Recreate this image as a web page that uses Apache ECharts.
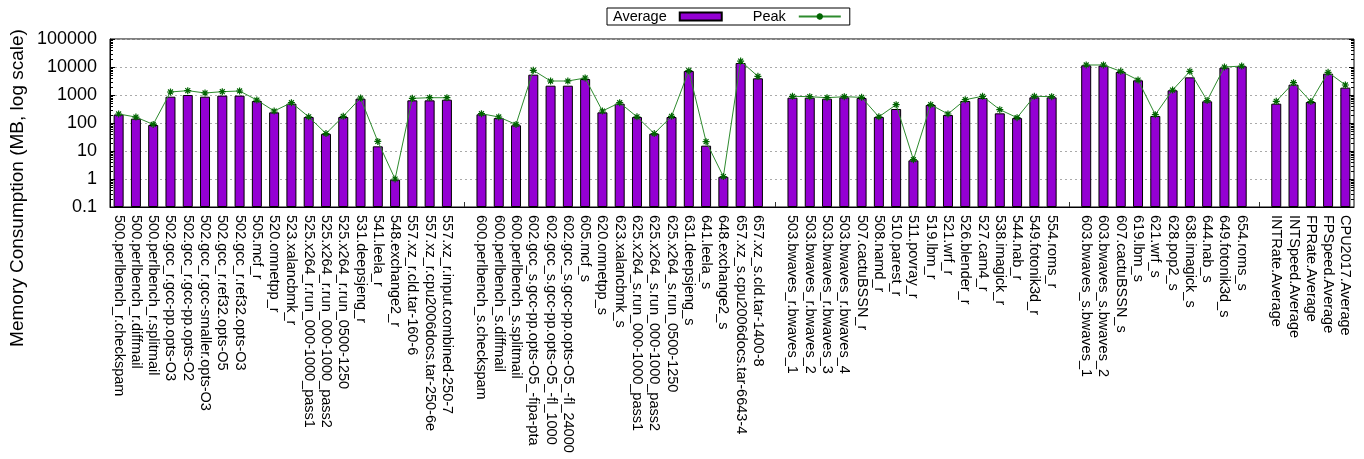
<!DOCTYPE html>
<html>
<head>
<meta charset="utf-8">
<script src="https://cdn.jsdelivr.net/npm/echarts@6/dist/echarts.min.js"></script>
<style>
  html, body { margin: 0; padding: 0; background: #fff; }
  #chart { width: 1364px; height: 459px; }
</style>
</head>
<body>
<div id="chart"></div>
<script>
// SPEC CPU2017 memory consumption per benchmark (MB)
const intRateNames = [
  '500.perlbench_r.checkspam', '500.perlbench_r.diffmail', '500.perlbench_r.splitmail',
  '502.gcc_r.gcc-pp.opts-O3', '502.gcc_r.gcc-pp.opts-O2', '502.gcc_r.gcc-smaller.opts-O3',
  '502.gcc_r.ref32.opts-O5', '502.gcc_r.ref32.opts-O3', '505.mcf_r', '520.omnetpp_r',
  '523.xalancbmk_r', '525.x264_r.run_000-1000_pass1', '525.x264_r.run_000-1000_pass2',
  '525.x264_r.run_0500-1250', '531.deepsjeng_r', '541.leela_r', '548.exchange2_r',
  '557.xz_r.cld.tar-160-6', '557.xz_r.cpu2006docs.tar-250-6e', '557.xz_r.input.combined-250-7'
];
const intRateAvg  = [200, 143, 85, 870, 1000, 870, 950, 950, 610, 240, 490, 164, 41, 164, 740, 14.7, 0.95, 645, 645, 680];
const intRatePeak = [210, 163, 89, 1280, 1430, 1180, 1315, 1390, 660, 268, 532, 166, 42, 173, 780, 22, 1.0, 760, 800, 800];

const intSpeedNames = [
  '600.perlbench_s.checkspam', '600.perlbench_s.diffmail', '600.perlbench_s.splitmail',
  '602.gcc_s.gcc-pp.opts-O5_-fipa-pta', '602.gcc_s.gcc-pp.opts-O5_-fl_1000',
  '602.gcc_s.gcc-pp.opts-O5_-fl_24000', '605.mcf_s', '620.omnetpp_s', '623.xalancbmk_s',
  '625.x264_s.run_000-1000_pass1', '625.x264_s.run_000-1000_pass2', '625.x264_s.run_0500-1250',
  '631.deepsjeng_s', '641.leela_s', '648.exchange2_s', '657.xz_s.cpu2006docs.tar-6643-4',
  '657.xz_s.cld.tar-1400-8'
];
const intSpeedAvg  = [204, 150, 83, 5320, 2150, 2150, 3730, 240, 490, 164, 41.5, 164, 7200, 15.5, 1.2, 13900, 3940];
const intSpeedPeak = [215, 164, 89, 7600, 3160, 3160, 4050, 268, 530, 166, 42, 173, 7400, 21.6, 1.22, 16300, 4640];

const fpRateNames = [
  '503.bwaves_r.bwaves_1', '503.bwaves_r.bwaves_2', '503.bwaves_r.bwaves_3', '503.bwaves_r.bwaves_4',
  '507.cactuBSSN_r', '508.namd_r', '510.parest_r', '511.povray_r', '519.lbm_r', '521.wrf_r',
  '526.blender_r', '527.cam4_r', '538.imagick_r', '544.nab_r', '549.fotonik3d_r', '554.roms_r'
];
const fpRateAvg  = [803, 803, 740, 825, 780, 164, 316, 4.64, 440, 193, 610, 780, 221, 150, 825, 825];
const fpRatePeak = [900, 870, 800, 870, 825, 166, 452, 4.9, 450, 210, 680, 900, 300, 155, 900, 870];

const fpSpeedNames = [
  '603.bwaves_s.bwaves_1', '603.bwaves_s.bwaves_2', '607.cactuBSSN_s', '619.lbm_s', '621.wrf_s',
  '628.pop2_s', '638.imagick_s', '644.nab_s', '649.fotonik3d_s', '654.roms_s'
];
const fpSpeedAvg  = [11500, 11200, 6630, 3340, 178, 1470, 4270, 594, 9470, 10600];
const fpSpeedPeak = [11800, 11800, 7000, 3430, 198, 1500, 7000, 630, 10000, 10800];

const summaryNames = ['INTRate.Average', 'INTSpeed.Average', 'FPRate.Average', 'FPSpeed.Average', 'CPU2017.Average'];
const summaryAvg  = [490, 2340, 562, 5780, 1830];
const summaryPeak = [594, 2760, 580, 6470, 2280];

// y-axis decades and the log-spaced minor tick multipliers between them
const yTickValues = [0.1, 1, 10, 100, 1000, 10000, 100000];
const minorMultipliers = [2, 3, 4, 5, 6, 7, 8, 9];

// Build one category axis with an empty slot between benchmark groups
const groups = [
  [intRateNames, intRateAvg, intRatePeak],
  [intSpeedNames, intSpeedAvg, intSpeedPeak],
  [fpRateNames, fpRateAvg, fpRatePeak],
  [fpSpeedNames, fpSpeedAvg, fpSpeedPeak],
  [summaryNames, summaryAvg, summaryPeak]
];
const categories = [], avgData = [], peakData = [], gapIndex = new Set();
groups.forEach((g, gi) => {
  if (gi > 0) {
    gapIndex.add(categories.length);
    categories.push(' '.repeat(gi));
    avgData.push(null);
    peakData.push(null);
  }
  g[0].forEach((n, i) => { categories.push(n); avgData.push(g[1][i]); peakData.push(g[2][i]); });
});

// Tick marks on both frame edges (major + minor)
const tickData = [];
yTickValues.forEach((v, i) => {
  tickData.push([0, v, 5]);
  if (i < yTickValues.length - 1) minorMultipliers.forEach(m => tickData.push([0, v * m, 3]));
});

const FONT = '"Liberation Sans", Arial, Helvetica, sans-serif';
const asterisk = 'path://M5,0L5,10M0,5L10,5M1.5,1.5L8.5,8.5M1.5,8.5L8.5,1.5';

const chart = echarts.init(document.getElementById('chart'), null, { renderer: 'canvas' });
chart.setOption({
  animation: false,
  backgroundColor: '#fff',
  textStyle: { fontFamily: FONT },
  legend: {
    data: [{ name: 'Average', icon: 'rect' }, { name: 'Peak' }],
    left: 607, top: 8,
    align: 'right',
    itemWidth: 42, itemHeight: 8, itemGap: 30,
    padding: [1, 8, 1, 6],
    borderColor: '#000', borderWidth: 1,
    selectedMode: false,
    textStyle: { fontSize: 14.5, color: '#000', fontFamily: FONT, padding: [0, 8, 0, 0] }
  },
  graphic: [{
    type: 'text',
    x: 18, y: 188,
    rotation: Math.PI / 2,
    style: {
      text: 'Memory Consumption (MB, log scale)',
      font: '19px ' + FONT,
      fill: '#000',
      align: 'center',
      verticalAlign: 'middle'
    }
  }],
  grid: {
    left: 110, right: 10, top: 39, bottom: 252,
    show: true, borderColor: '#000', borderWidth: 1, containLabel: false
  },
  xAxis: {
    type: 'category',
    data: categories,
    boundaryGap: true,
    axisLine: { show: true, lineStyle: { color: '#000' } },
    axisTick: {
      show: true, inside: true, length: 5, alignWithLabel: true,
      interval: (i) => gapIndex.has(i),
      lineStyle: { color: '#333' }
    },
    axisLabel: {
      interval: 0, rotate: -90, margin: 8,
      fontSize: 14.5, color: '#000', fontFamily: FONT
    },
    splitLine: { show: false }
  },
  yAxis: {
    type: 'log',
    logBase: 10,
    min: 0.1, max: 100000,
    startValue: 0.1,
    axisLine: { show: true, lineStyle: { color: '#000' } },
    axisTick: { show: false },
    axisLabel: {
      fontSize: 18, color: '#000', margin: 13, fontFamily: FONT,
      formatter: v => String(+(+v).toPrecision(6))
    },
    splitLine: { show: true, lineStyle: { color: '#aaa', type: [2, 3], width: 1 } }
  },
  series: [
    {
      name: 'Average',
      type: 'bar',
      data: avgData,
      barWidth: 10,
      itemStyle: { color: '#9400d3', borderColor: '#000', borderWidth: 1 }
    },
    {
      name: 'Peak',
      type: 'line',
      data: peakData,
      connectNulls: false,
      symbol: asterisk,
      symbolSize: 7,
      lineStyle: { color: '#2e8b2e', width: 1 },
      itemStyle: { color: '#006400', borderColor: '#006400', borderWidth: 1.2 },
      z: 3
    },
    {
      name: 'ticks',
      type: 'custom',
      data: tickData,
      encode: { x: 0, y: 1 },
      silent: true,
      clip: false,
      z: 4,
      renderItem: (params, api) => {
        const y = Math.round(api.coord([0, api.value(1)])[1]) + 0.5;
        const len = api.value(2);
        const cs = params.coordSys;
        const l = cs.x, r = cs.x + cs.width;
        return {
          type: 'group',
          children: [
            { type: 'line', shape: { x1: l, y1: y, x2: l + len, y2: y }, style: { stroke: '#000', lineWidth: 1 } },
            { type: 'line', shape: { x1: r - len, y1: y, x2: r, y2: y }, style: { stroke: '#000', lineWidth: 1 } }
          ]
        };
      }
    }
  ]
});
</script>
</body>
</html>
